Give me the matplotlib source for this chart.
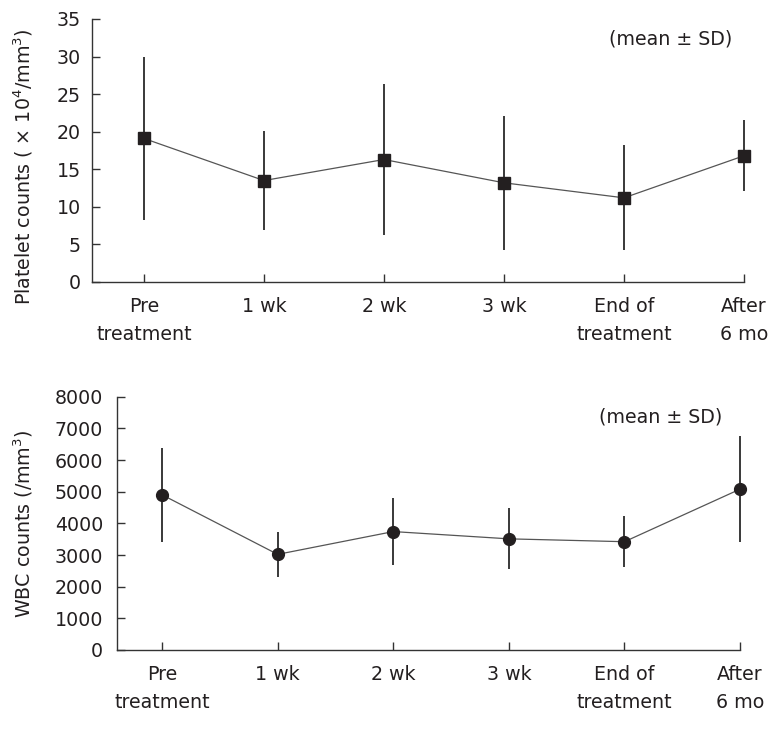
import numpy as np
import matplotlib
matplotlib.use('Agg')
import matplotlib.pyplot as plt

# Time points (shared by both panels)
labels = ['Pre\ntreatment', '1 wk', '2 wk', '3 wk', 'End of\ntreatment', 'After\n6 mo']

# Platelet counts (x10^4/mm^3), mean and SD
plt_mean = [19.1, 13.5, 16.3, 13.2, 11.2, 16.8]
plt_sd = [10.8, 6.6, 10.1, 8.9, 7.0, 4.7]

# WBC counts (/mm^3), mean and SD
wbc_mean = [4900, 3020, 3740, 3510, 3420, 5080]
wbc_sd = [1490, 710, 1070, 960, 810, 1670]

plt.rcParams['font.family'] = ['DejaVu Sans']
plt.rcParams['mathtext.fontset'] = 'dejavusans'

dark = '#231f20'
fs = 13.7

fig = plt.figure(figsize=(7.73, 7.30), dpi=100)
ax1 = fig.add_axes([0.119, 0.6137, 0.8435, 0.3603])
ax2 = fig.add_axes([0.1514, 0.1096, 0.806, 0.347])

x = np.arange(len(labels))


def style(ax, xlo):
    for s in ['top', 'right']:
        ax.spines[s].set_visible(False)
    for s in ['left', 'bottom']:
        ax.spines[s].set_color('#333333')
        ax.spines[s].set_linewidth(1.0)
    ax.set_xlim(xlo, 5)
    ax.set_xticks(x)
    ax.set_xticklabels(labels, fontsize=fs, linespacing=1.55, color=dark)
    ax.tick_params(axis='both', direction='in', length=6, width=1.0, color='#333333')
    ax.tick_params(axis='x', pad=11)
    ax.tick_params(axis='y', labelsize=fs, labelcolor=dark)


def draw(ax, mean, sd, marker, ms):
    ax.plot(x, mean, color='#555555', lw=0.9, zorder=2, clip_on=False)
    eb = ax.errorbar(x, mean, yerr=sd, fmt='none', ecolor='#2a2a2a', elinewidth=1.3,
                     capsize=0, zorder=3)
    for c in eb.lines[2]:
        c.set_clip_on(False)
    ax.plot(x, mean, marker, color=dark, markersize=ms, zorder=4, clip_on=False)


# Top panel: platelets
draw(ax1, plt_mean, plt_sd, 's', 8)
ax1.set_ylim(0, 35)
ax1.set_yticks(np.arange(0, 36, 5))
style(ax1, -0.433)
ax1.tick_params(axis='y', pad=8)
ax1.set_ylabel('Platelet counts ( $\\times$ 10$^4$/mm$^3$)', fontsize=fs, color=dark)
ax1.yaxis.set_label_coords(-0.087, 0.44)
fig.text(671 / 773, 1 - 39 / 730, '(mean \u00b1 SD)', fontsize=fs, color=dark,
         ha='center', va='center')

# Bottom panel: WBC
draw(ax2, wbc_mean, wbc_sd, 'o', 8.5)
ax2.set_ylim(0, 8000)
ax2.set_yticks(np.arange(0, 8001, 1000))
style(ax2, -0.39)
ax2.tick_params(axis='y', pad=10)
ax2.set_ylabel('WBC counts (/mm$^3$)', fontsize=fs, color=dark)
ax2.yaxis.set_label_coords(-0.132, 0.5)
fig.text(661 / 773, 1 - 416.7 / 730, '(mean \u00b1 SD)', fontsize=fs, color=dark,
         ha='center', va='center')

fig.savefig('out.png', dpi=100)
